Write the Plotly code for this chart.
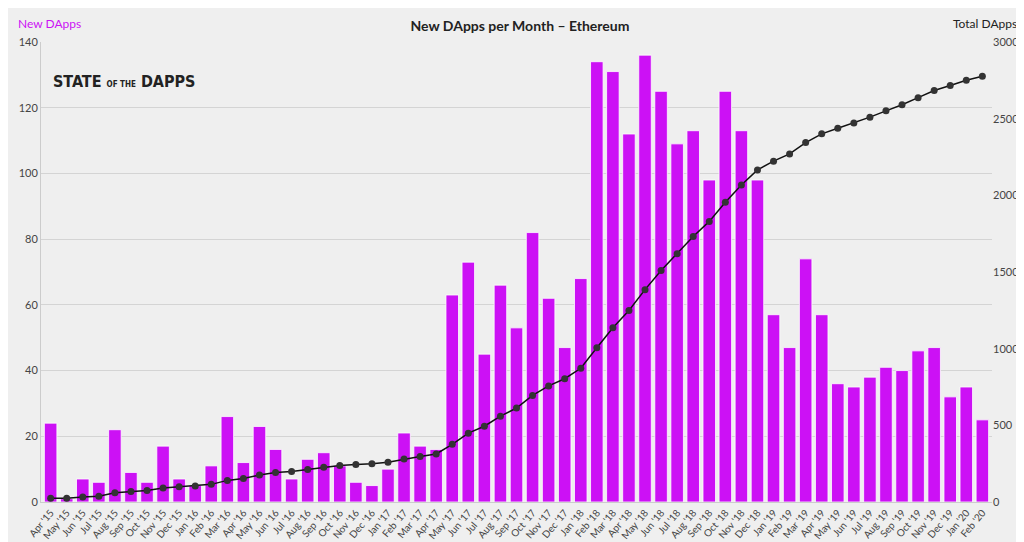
import plotly.graph_objects as go

months = ["Apr '15", "May '15", "Jun '15", "Jul '15", "Aug '15", "Sep '15", "Oct '15", "Nov '15", "Dec '15",
          "Jan '16", "Feb '16", "Mar '16", "Apr '16", "May '16", "Jun '16", "Jul '16", "Aug '16", "Sep '16",
          "Oct '16", "Nov '16", "Dec '16",
          "Jan '17", "Feb '17", "Mar '17", "Apr '17", "May '17", "Jun '17", "Jul '17", "Aug '17", "Sep '17",
          "Oct '17", "Nov '17", "Dec '17",
          "Jan '18", "Feb '18", "Mar '18", "Apr '18", "May '18", "Jun '18", "Jul '18", "Aug '18", "Sep '18",
          "Oct '18", "Nov '18", "Dec '18",
          "Jan '19", "Feb '19", "Mar '19", "Apr '19", "May '19", "Jun '19", "Jul '19", "Aug '19", "Sep '19",
          "Oct '19", "Nov '19", "Dec '19",
          "Jan '20", "Feb '20"]

new_dapps = [24, 1, 7, 6, 22, 9, 6, 17, 7,
             5, 11, 26, 12, 23, 16, 7, 13, 15, 11, 6, 5,
             10, 21, 17, 16, 63, 73, 45, 66, 53, 82, 62, 47,
             68, 134, 131, 112, 136, 125, 109, 113, 98, 125, 113, 98,
             57, 47, 74, 57, 36, 35, 38, 41, 40, 46, 47, 32,
             35, 25]

total_dapps = [24, 25, 32, 38, 60, 69, 75, 92, 99,
               104, 115, 141, 153, 176, 192, 199, 212, 227, 238, 244, 249,
               259, 280, 297, 313, 376, 449, 494, 560, 613, 695, 757, 804,
               872, 1006, 1137, 1249, 1385, 1510, 1619, 1732, 1830, 1955, 2068, 2166,
               2223, 2270, 2344, 2401, 2437, 2472, 2510, 2551, 2591, 2637, 2684, 2716,
               2751, 2776]

fig = go.Figure()
fig.add_bar(x=months, y=new_dapps, name="New DApps",
            marker=dict(color="#cc11f5", line=dict(color="#ffffff", width=0.8)))
fig.add_scatter(x=months, y=total_dapps, name="Total DApps", yaxis="y2", mode="lines+markers",
                line=dict(color="#111111", width=1.5),
                marker=dict(color="#333333", size=7))

fig.update_layout(
    width=1024, height=542,
    paper_bgcolor="#efefef", plot_bgcolor="#efefef",
    font=dict(family="Lato", color="#444444", size=11),
    margin=dict(l=33, r=40, t=34, b=48),
    showlegend=False, bargap=0.22,
    title=dict(text="<b>New DApps per Month – Ethereum</b>", x=0.5, y=0.975,
               xanchor="center", font=dict(size=14, color="#222222")),
    xaxis=dict(tickangle=-50, showgrid=False, ticks="", showline=True, linecolor="#cccccc",
               tickfont=dict(size=10), automargin=False, range=[-0.6, 58.6]),
    yaxis=dict(range=[0, 140], dtick=20, gridcolor="#d4d4d4", zeroline=False,
               showline=True, linecolor="#cccccc", automargin=False),
    yaxis2=dict(range=[0, 3000], dtick=500, overlaying="y", side="right", showgrid=False,
                zeroline=False, automargin=False),
    annotations=[
        dict(text="New DApps", xref="paper", yref="paper", x=-0.026, y=1.06, xanchor="left",
             showarrow=False, font=dict(color="#cc11f5", size=12)),
        dict(text="Total DApps", xref="paper", yref="paper", x=1.028, y=1.06, xanchor="right",
             showarrow=False, font=dict(color="#222222", size=12)),
        dict(text="<b>STATE <span style='font-size:8px'>OF THE</span> DAPPS</b>", xref="paper", yref="paper",
             x=0.01, y=0.94, xanchor="left", showarrow=False,
             font=dict(family="DejaVu Sans Condensed", color="#222222", size=16)),
    ],
)

fig.write_html("out.html")
